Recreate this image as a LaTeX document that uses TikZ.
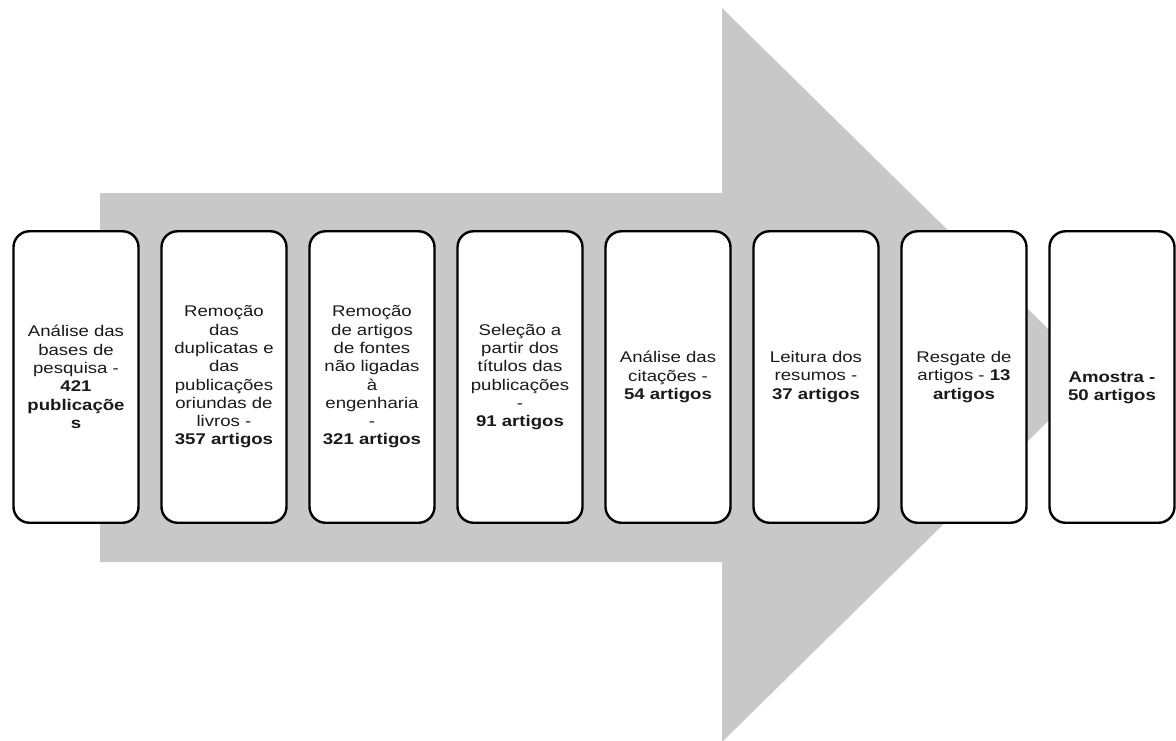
\documentclass[tikz,border=0pt]{standalone}
\usepackage{fontspec}
\setmainfont{Liberation Sans}[FakeStretch=1.2]
\definecolor{arrowgrey}{RGB}{200,200,200}
\definecolor{txt}{RGB}{26,26,26}
\begin{document}
\begin{tikzpicture}[x=1pt,y=-1pt,
  stage/.style={draw=black, line width=2.4pt, rounded corners=16pt, fill=white,
    minimum width=125pt, minimum height=291.5pt, inner sep=0pt},
  caption/.style={align=center, text=txt, inner sep=0pt,
    font=\fontsize{15.5}{18.3}\selectfont}]
\useasboundingbox (0,0) rectangle (1176,740);

% big background arrow
\fill[arrowgrey] (100,193) -- (722,193) -- (722,8) -- (1095,375)
  -- (722,742) -- (722,562) -- (100,562) -- cycle;

% stage boxes
\foreach \i in {1,...,8}{
  \node[stage] (b\i) at ({76+148*(\i-1)},377) {};
}

% stage texts
\node[caption] (t1) at (b1.center) {Análise das\\bases de\\pesquisa -\\\textbf{421}\\\textbf{publicaçõe}\\\textbf{s}};
\node[caption] (t2) at (b2.center) {Remoção\\das\\duplicatas e\\das\\publicações\\oriundas de\\livros -\\\textbf{357 artigos}};
\node[caption] (t3) at (b3.center) {Remoção\\de artigos\\de fontes\\não ligadas\\à\\engenharia\\-\\\textbf{321 artigos}};
\node[caption] (t4) at (b4.center) {Seleção a\\partir dos\\títulos das\\publicações\\-\\\textbf{91 artigos}};
\node[caption] (t5) at (b5.center) {Análise das\\citações -\\\textbf{54 artigos}};
\node[caption] (t6) at (b6.center) {Leitura dos\\resumos -\\\textbf{37 artigos}};
\node[caption] (t7) at (b7.center) {Resgate de\\artigos - \textbf{13}\\\textbf{artigos}};
\node[caption] (t8) at ([yshift=-11pt]b8.center) {\textbf{Amostra -}\\\textbf{50 artigos}};
\end{tikzpicture}
\end{document}
